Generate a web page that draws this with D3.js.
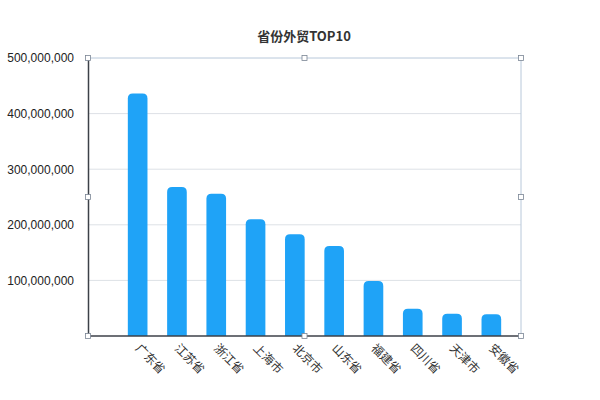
<!DOCTYPE html>
<html>
<head>
<meta charset="utf-8">
<script src="https://cdn.jsdelivr.net/npm/d3@7"></script>
<style>
  body { margin: 0; background: #fff; }
  text { font-family: "Noto Sans CJK SC", "Liberation Sans", sans-serif; }
</style>
</head>
<body>
<div id="chart"></div>
<script>
// data
var provinces = ["广东省", "江苏省", "浙江省", "上海市", "北京市", "山东省", "福建省", "四川省", "天津市", "安徽省"];
var trade = [436000000, 268000000, 256000000, 210000000, 183000000, 162000000, 99000000, 49000000, 40000000, 39000000];
var yTicks = [100000000, 200000000, 300000000, 400000000, 500000000];
var title = "省份外贸TOP10";

var w = 600, h = 400;
var pLeft = 88, pRight = 521, pTop = 58, pBottom = 336;

var svg = d3.select("#chart").append("svg")
  .attr("width", w)
  .attr("height", h);

var x = d3.scaleBand()
  .domain(provinces)
  .range([118, 511])
  .paddingInner(0.5)
  .paddingOuter(0.25);

var y = d3.scaleLinear()
  .domain([0, 500000000])
  .range([pBottom, pTop]);

// gridlines
svg.selectAll("line.grid")
  .data(yTicks)
  .enter().append("line")
  .attr("class", "grid")
  .attr("x1", pLeft).attr("x2", pRight)
  .attr("y1", function(d) { return y(d); })
  .attr("y2", function(d) { return y(d); })
  .attr("stroke", function(d) { return d == 500000000 ? "#b8c8da" : "#dde1e6"; })
  .attr("stroke-width", 1);

// right edge of selection box
svg.append("line")
  .attr("x1", pRight).attr("x2", pRight)
  .attr("y1", pTop).attr("y2", pBottom)
  .attr("stroke", "#b8c8da");

// bars with rounded tops
var r = 5;
svg.selectAll("path.bar")
  .data(provinces)
  .enter().append("path")
  .attr("class", "bar")
  .attr("fill", "#1fa3f7")
  .attr("d", function(d, i) {
    var x0 = x(d), bw = x.bandwidth(), yt = y(trade[i]);
    return "M" + x0 + "," + pBottom +
      "V" + (yt + r) +
      "Q" + x0 + "," + yt + " " + (x0 + r) + "," + yt +
      "H" + (x0 + bw - r) +
      "Q" + (x0 + bw) + "," + yt + " " + (x0 + bw) + "," + (yt + r) +
      "V" + pBottom + "Z";
  });

// y axis labels
var yAxis = d3.axisLeft(y)
  .tickValues(yTicks)
  .tickSize(0)
  .tickPadding(14)
  .tickFormat(d3.format(","));

var gy = svg.append("g")
  .attr("transform", "translate(" + pLeft + ",0)")
  .call(yAxis);
gy.select(".domain").attr("stroke", "#3c4148").attr("stroke-width", 1.5);
gy.selectAll("text")
  .attr("font-size", "12px")
  .attr("fill", "#222")
  .style("font-family", "'Liberation Sans', Arial, sans-serif");

// x axis
var xAxis = d3.axisBottom(x).tickSize(0).tickPadding(0);
var gx = svg.append("g")
  .attr("transform", "translate(0," + pBottom + ")")
  .call(xAxis);
gx.select(".domain").attr("d", "M" + pLeft + ",0H" + pRight).attr("stroke", "#3c4148").attr("stroke-width", 1.5);
gx.selectAll("text")
  .attr("font-size", "12px")
  .attr("fill", "#333")
  .attr("text-anchor", "start")
  .attr("dy", null)
  .attr("y", null)
  .attr("transform", "translate(-3,13) rotate(45)");

// selection handles
var handles = [[pLeft, pTop], [(pLeft + pRight) / 2, pTop], [pRight, pTop],
               [pLeft, (pTop + pBottom) / 2], [pRight, (pTop + pBottom) / 2],
               [pLeft, pBottom], [(pLeft + pRight) / 2, pBottom], [pRight, pBottom]];
svg.selectAll("rect.handle")
  .data(handles)
  .enter().append("rect")
  .attr("class", "handle")
  .attr("x", function(d) { return d[0] - 2.5; })
  .attr("y", function(d) { return d[1] - 2.5; })
  .attr("width", 5).attr("height", 5)
  .attr("fill", "#fff")
  .attr("stroke", "#7a8594")
  .attr("stroke-width", 0.8);

// title
svg.append("text")
  .attr("x", 304)
  .attr("y", 41)
  .attr("text-anchor", "middle")
  .attr("font-size", "13px")
  .attr("font-weight", "bold")
  .attr("fill", "#333")
  .text(title);
</script>
</body>
</html>
